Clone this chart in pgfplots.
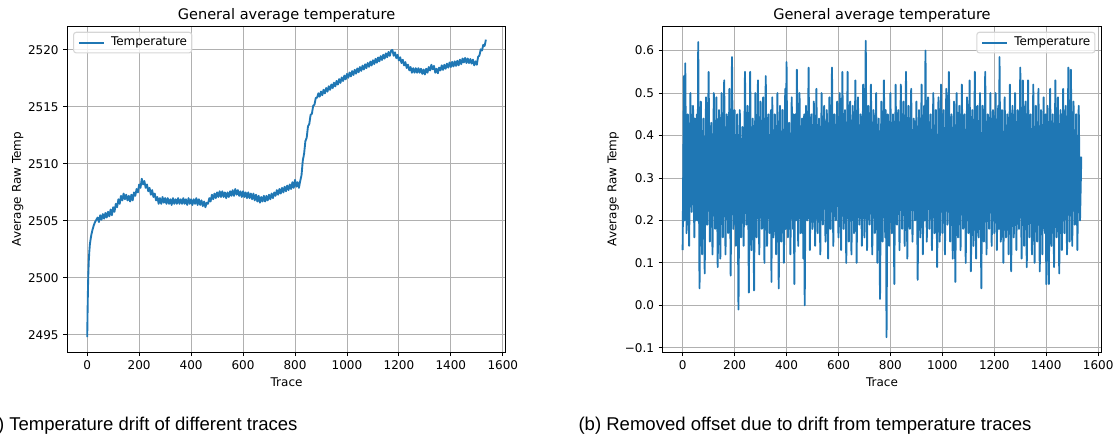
\documentclass[border=0pt]{standalone}
\usepackage{fontspec}
\setmainfont{DejaVu Sans}
\newfontfamily\capfont{Liberation Sans}
\usepackage{pgfplots}
\pgfplotsset{compat=1.18}

\definecolor{mplblue}{HTML}{1F77B4}
\definecolor{mplgrid}{HTML}{B0B0B0}
\definecolor{legframe}{HTML}{D6D6D6}

\pgfplotsset{
  mpl/.style={
    scale only axis, width=328.9pt, height=244.5pt,
    anchor=south west,
    xmin=-76.75, xmax=1611.75,
    xtick={0,200,...,1600},
    /pgf/number format/assume math mode=true,
    /pgf/number format/1000 sep={},
    grid=major,
    major grid style={color=mplgrid, line width=0.68pt},
    axis line style={line width=0.68pt},
    tick align=outside, xtick pos=lower, ytick pos=left,
    major tick length=3pt,
    tick style={black, line width=0.68pt},
    tick label style={font=\fontsize{9}{10.5}\selectfont},
    label style={font=\fontsize{9}{10.5}\selectfont},
    title={General average temperature},
    every axis title/.style={font=\fontsize{10.9}{12.5}\selectfont,
      at={(axis description cs:0.5,1.0208)}, anchor=base},
    xlabel={Trace}, ylabel={Average Raw Temp},
    xlabel style={at={(axis description cs:0.5,-0.092)}, anchor=center},
    ylabel style={at={(axis description cs:-0.113,0.5)}, anchor=center},
    legend style={draw=legframe, fill=white, fill opacity=0.8, text opacity=1,
      rounded corners=2pt, line width=0.8pt,
      font=\fontsize{9}{10.5}\selectfont,
      inner xsep=2pt, inner ysep=2.2pt,
      nodes={inner xsep=1.5pt, inner ysep=1.5pt}},
    legend image code/.code={\draw[#1] (0pt,0pt) -- (18.75pt,0pt); \path (-1.2pt,0pt) (22pt,0pt);},
  },
  trace/.style={mplblue, line width=1.4pt, line join=round, no markers},
}

\begin{document}
\begin{tikzpicture}[x=0.75pt, y=0.75pt]

% (a) raw temperature
\begin{axis}[mpl, at={(50.475pt,63pt)},
  ymin=2493.5, ymax=2522.1,
  ytick={2495,2500,2505,2510,2515,2520},
  legend style={at={(axis description cs:0.0131,0.9824)}, anchor=north west}]
\addplot[trace] coordinates {
(0,2494.8)(1,2496.5)(2,2498.0)(3,2499.2)(4,2500.2)(6,2501.5)(8,2502.3)(10,2502.9)
(13,2503.4)(16,2503.8)(20,2504.2)(25,2504.6)(30,2504.9)(35,2505.1)
(40,2505.3)(45,2504.9)(50,2505.5)(55,2505.1)(60,2505.6)(65,2505.2)(70,2505.7)(75,2505.3)
(80,2505.8)(85,2505.4)(90,2506.0)(95,2505.5)(100,2506.2)(105,2505.8)(110,2506.5)(115,2506.2)
(120,2506.9)(125,2506.5)(130,2507.2)(135,2506.8)(140,2507.4)(145,2506.9)(150,2507.3)(155,2506.8)
(160,2507.2)(165,2506.7)(170,2507.3)(175,2506.8)(180,2507.5)(185,2507.2)(190,2507.8)(195,2507.5)
(200,2508.2)(205,2507.9)(210,2508.7)(215,2508.2)(220,2508.5)(225,2507.9)(230,2508.2)(235,2507.6)
(240,2507.9)(245,2507.3)(250,2507.7)(255,2507.1)(260,2507.4)(265,2506.8)(270,2507.1)(275,2506.5)
(280,2507.0)(285,2506.5)(290,2507.1)(295,2506.6)(300,2507.0)(305,2506.5)(310,2507.0)(315,2506.5)
(320,2506.9)(325,2506.4)(330,2507.0)(335,2506.5)(340,2506.9)(345,2506.5)(350,2507.0)(355,2506.5)
(360,2506.9)(365,2506.5)(370,2507.0)(375,2506.5)(380,2506.9)(385,2506.4)(390,2507.0)(395,2506.5)
(400,2506.9)(405,2506.4)(410,2506.9)(415,2506.5)(420,2507.0)(425,2506.4)(430,2506.9)(435,2506.4)
(440,2506.8)(445,2506.3)(450,2506.7)(455,2506.2)(460,2506.6)(465,2506.5)(470,2507.0)(475,2506.7)
(480,2507.3)(485,2506.9)(490,2507.4)(495,2507.0)(500,2507.5)(505,2507.1)(510,2507.6)(515,2507.1)
(520,2507.6)(525,2507.1)(530,2507.5)(535,2507.0)(540,2507.5)(545,2507.1)(550,2507.6)(555,2507.2)
(560,2507.7)(565,2507.2)(570,2507.8)(575,2507.3)(580,2507.7)(585,2507.2)(590,2507.6)(595,2507.1)
(600,2507.6)(605,2507.1)(610,2507.5)(615,2507.0)(620,2507.5)(625,2507.0)(630,2507.4)(635,2506.9)
(640,2507.4)(645,2506.8)(650,2507.3)(655,2506.7)(660,2507.2)(665,2506.6)(670,2507.1)(675,2506.7)
(680,2507.2)(685,2506.7)(690,2507.2)(695,2506.8)(700,2507.3)(705,2506.9)(710,2507.4)(715,2507.0)
(720,2507.5)(725,2507.2)(730,2507.7)(735,2507.3)(740,2507.8)(745,2507.4)(750,2507.9)(755,2507.5)
(760,2508.0)(765,2507.6)(770,2508.1)(775,2507.7)(780,2508.2)(785,2507.8)(790,2508.4)(795,2507.9)
(800,2508.6)(805,2508.0)(810,2508.4)(815,2507.9)(820,2508.5)(825,2509.0)(830,2510.3)(835,2510.9)
(840,2512.0)(845,2512.3)(850,2513.3)(855,2513.5)(860,2514.3)(865,2514.4)(870,2515.1)(875,2515.2)
(880,2515.8)(885,2515.8)(890,2516.2)(895,2515.9)(900,2516.35)(905,2516.03)(910,2516.51)(915,2516.19)
(920,2516.66)(925,2516.34)(930,2516.82)(935,2516.5)(940,2516.97)(945,2516.65)(950,2517.13)(955,2516.8)
(960,2517.28)(965,2516.96)(970,2517.44)(975,2517.11)(980,2517.59)(985,2517.27)(990,2517.75)(995,2517.42)
(1000,2517.9)(1005,2517.56)(1010,2518.02)(1015,2517.68)(1020,2518.14)(1025,2517.8)(1030,2518.26)(1035,2517.92)
(1040,2518.38)(1045,2518.04)(1050,2518.5)(1055,2518.16)(1060,2518.62)(1065,2518.28)(1070,2518.74)(1075,2518.4)
(1080,2518.86)(1085,2518.52)(1090,2518.98)(1095,2518.64)(1100,2519.1)(1105,2518.76)(1110,2519.22)(1115,2518.88)
(1120,2519.34)(1125,2519.0)(1130,2519.46)(1135,2519.12)(1140,2519.58)(1145,2519.24)(1150,2519.7)(1155,2519.36)
(1160,2519.82)(1165,2519.48)(1170,2519.94)(1175,2520.0)(1180,2519.49)(1185,2519.79)(1190,2519.28)(1195,2519.57)
(1200,2519.07)(1205,2519.36)(1210,2518.85)(1215,2519.14)(1220,2518.64)(1225,2518.93)(1230,2518.42)(1235,2518.71)
(1240,2518.21)(1245,2518.5)(1250,2518.0)(1255,2518.4)(1260,2518.0)(1265,2518.4)(1270,2518.0)(1275,2518.4)
(1280,2518.0)(1285,2518.35)(1290,2517.9)(1295,2518.28)(1300,2517.85)(1305,2518.35)(1310,2518.0)(1315,2518.5)
(1320,2518.2)(1325,2518.7)(1330,2518.3)(1335,2518.6)(1340,2518.0)(1345,2518.35)(1350,2517.95)(1355,2518.45)
(1360,2518.2)(1365,2518.65)(1370,2518.25)(1375,2518.7)(1380,2518.35)(1385,2518.8)(1390,2518.45)(1395,2518.9)
(1400,2518.5)(1405,2518.95)(1410,2518.55)(1415,2519.0)(1420,2518.6)(1425,2519.05)(1430,2518.65)(1435,2519.15)
(1440,2518.75)(1445,2519.25)(1450,2518.9)(1455,2519.3)(1460,2518.85)(1465,2519.25)(1470,2518.85)(1475,2519.2)
(1480,2518.8)(1485,2519.15)(1490,2518.65)(1495,2519.0)(1500,2518.7)(1505,2519.4)(1510,2519.5)(1515,2520.05)
(1520,2519.95)(1525,2520.45)(1530,2520.35)(1535,2520.9)
};
\addlegendentry{Temperature}
\end{axis}

% (b) offset removed
\begin{axis}[mpl, at={(497.025pt,63pt)},
  ymin=-0.11, ymax=0.658,
  ytick={-0.1,0,0.1,0.2,0.3,0.4,0.5,0.6},
  yticklabels={−0.1,0.0,0.1,0.2,0.3,0.4,0.5,0.6},
  legend style={at={(axis description cs:0.9869,0.9824)}, anchor=north east}]
\addplot[trace] coordinates {
(0,0.13)(5,0.54)(7,0.20)(10,0.57)(15,0.17)(20,0.45)(25,0.14)(30,0.50)(35,0.22)(40,0.47)(45,0.16)(47,0.44)
(50,0.20)(55,0.45)(57,0.20)(60,0.62)(65,0.04)(70,0.48)(75,0.12)(80,0.44)(85,0.075)(90,0.49)(95,0.19)
(100,0.55)(105,0.15)(110,0.43)(115,0.12)(120,0.50)(125,0.18)(130,0.49)(135,0.09)(140,0.46)(145,0.11)
(150,0.50)(155,0.16)(160,0.53)(165,0.12)(170,0.45)(175,0.17)(180,0.51)(185,0.07)(190,0.585)(195,0.18)
(200,0.46)(205,0.14)(210,0.45)(215,-0.01)(220,0.46)(225,0.16)(230,0.42)(235,0.14)(240,0.55)(245,0.19)
(250,0.47)(255,0.03)(260,0.55)(265,0.13)(270,0.44)(275,0.035)(280,0.50)(285,0.16)(290,0.53)(295,0.12)
(300,0.48)(305,0.18)(310,0.49)(315,0.10)(320,0.54)(325,0.14)(330,0.45)(335,0.17)(340,0.46)(342,0.055)(345,0.49)
(350,0.16)(355,0.45)(360,0.12)(365,0.50)(370,0.04)(375,0.47)(380,0.15)(385,0.46)(390,0.10)(395,0.51)(397,0.18)
(400,0.573)(405,0.16)(410,0.43)(415,0.12)(420,0.49)(425,0.18)(427,0.45)(430,0.05)(435,0.45)(437,0.20)(440,0.555)(445,0.14)
(450,0.50)(455,0.17)(460,0.44)(465,0.11)(468,0.45)(470,0.0)(475,0.47)(480,0.20)(485,0.56)(490,0.13)(495,0.45)
(500,0.18)(505,0.48)(510,0.14)(515,0.51)(520,0.17)(525,0.44)(530,0.12)(535,0.50)(540,0.19)(545,0.47)
(550,0.15)(555,0.46)(560,0.11)(565,0.49)(570,0.18)(575,0.56)(580,0.14)(585,0.45)(590,0.20)(595,0.48)
(600,0.16)(605,0.50)(610,0.13)(615,0.55)(620,0.18)(625,0.46)(630,0.10)(635,0.55)(640,0.15)(645,0.48)
(650,0.12)(655,0.47)(660,0.17)(665,0.53)(670,0.10)(675,0.49)(680,0.19)(685,0.45)(690,0.14)(695,0.52)
(700,0.16)(705,0.623)(710,0.13)(715,0.47)(720,0.19)(725,0.52)(730,0.12)(735,0.46)(740,0.17)(745,0.50)
(750,0.10)(755,0.44)(760,0.015)(765,0.48)(770,0.15)(775,0.53)(780,0.16)(782,0.46)(785,-0.075)(790,0.45)(795,0.14)
(800,0.50)(805,0.17)(810,0.45)(815,0.05)(820,0.52)(825,0.19)(830,0.46)(835,0.13)(840,0.52)(845,0.18)
(850,0.48)(855,0.14)(860,0.55)(865,0.11)(870,0.47)(875,0.18)(880,0.51)(885,0.15)(890,0.44)(895,0.20)
(900,0.48)(905,0.06)(910,0.46)(915,0.16)(920,0.52)(925,0.12)(930,0.47)(932,0.20)(935,0.60)(940,0.15)(945,0.49)
(950,0.18)(955,0.45)(960,0.13)(965,0.50)(970,0.17)(975,0.46)(980,0.09)(985,0.49)(990,0.15)(995,0.52)
(1000,0.17)(1005,0.46)(1010,0.12)(1015,0.51)(1020,0.19)(1025,0.55)(1030,0.15)(1035,0.45)(1040,0.11)(1045,0.48)
(1050,0.055)(1055,0.50)(1060,0.16)(1065,0.47)(1070,0.13)(1075,0.52)(1080,0.18)(1085,0.45)(1090,0.10)(1095,0.49)
(1100,0.17)(1105,0.53)(1110,0.08)(1115,0.46)(1120,0.14)(1125,0.55)(1130,0.11)(1135,0.47)(1140,0.16)(1145,0.50)
(1150,0.04)(1155,0.47)(1160,0.15)(1165,0.55)(1170,0.12)(1175,0.45)(1180,0.18)(1185,0.50)(1190,0.14)(1195,0.46)
(1200,0.17)(1205,0.50)(1210,0.13)(1215,0.47)(1218,0.18)(1220,0.585)(1225,0.15)(1230,0.46)(1235,0.10)(1240,0.49)(1245,0.16)
(1250,0.45)(1255,0.12)(1260,0.52)(1265,0.08)(1270,0.47)(1275,0.16)(1280,0.50)(1285,0.13)(1290,0.46)(1295,0.18)
(1300,0.56)(1305,0.11)(1310,0.53)(1315,0.14)(1320,0.48)(1325,0.09)(1330,0.53)(1335,0.16)(1340,0.45)(1345,0.12)
(1350,0.52)(1355,0.10)(1360,0.47)(1365,0.15)(1370,0.51)(1375,0.08)(1380,0.46)(1385,0.12)(1390,0.49)(1395,0.17)(1398,0.45)
(1400,0.05)(1405,0.47)(1410,0.05)(1415,0.51)(1420,0.14)(1425,0.45)(1430,0.09)(1435,0.53)(1440,0.16)(1445,0.49)
(1450,0.075)(1455,0.46)(1460,0.13)(1465,0.51)(1470,0.17)(1475,0.47)(1480,0.12)(1485,0.56)(1490,0.15)(1495,0.555)
(1500,0.14)(1505,0.48)(1510,0.19)(1515,0.45)(1520,0.13)(1525,0.47)(1530,0.20)(1535,0.35)
};
\addlegendentry{Temperature}
\end{axis}

% sub-captions
\node[anchor=base west, inner sep=0pt, font=\capfont\fontsize{13.9}{16}\selectfont]
  at (-18.7,6) {(a) Temperature drift of different traces};
\node[anchor=base west, inner sep=0pt, font=\capfont\fontsize{13.9}{16}\selectfont]
  at (578.3,6) {(b) Removed offset due to drift from temperature traces};

\pgfresetboundingbox
\path[use as bounding box] (0,0) rectangle (1120,436);
\end{tikzpicture}
\end{document}
